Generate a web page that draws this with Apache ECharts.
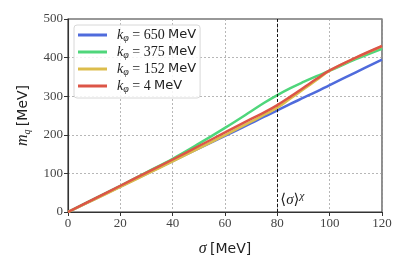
<!DOCTYPE html>
<html>
<head>
<meta charset="utf-8">
<script src="https://cdn.jsdelivr.net/npm/echarts@6/dist/echarts.min.js"></script>
<style>
html,body{margin:0;padding:0;background:#fff;}
#c{width:407px;height:271px;}
</style>
</head>
<body>
<div id="c"></div>
<script>
// sigma [MeV]
var sigma = [0, 10, 20, 30, 40, 50, 60, 70, 75, 80, 85, 90, 95, 100, 110, 120];
// m_q [MeV] for each k_phi
var mq650 = [0, 33, 66, 99, 132, 165, 197, 230, 247, 263, 280, 296, 312, 329, 362, 395];
var mq375 = [0, 34, 68, 103, 138, 177, 218, 261, 283, 303, 321, 337, 352, 366, 396, 423];
var mq152 = [0, 32, 65, 98, 131, 165, 199, 234, 252, 270, 294, 318, 342, 366, 399, 429];
var mq4   = [0, 34, 68, 102, 136, 171, 206, 241, 258, 277, 299, 322, 345, 367, 400, 430];
var seriesNames = ['650', '375', '152', '4'];
var xTicks = [0, 20, 40, 60, 80, 100, 120];
var yTicks = [0, 100, 200, 300, 400, 500];
var chiralSigma = 80;

function pairs(ys){ return sigma.map(function(x,i){ return [x, ys[i]]; }); }

var colors = ['#4f6bdc', '#4fd67b', '#dcbd4c', '#dc5547'];
var serif = "'Liberation Serif', 'DejaVu Serif', serif";
var sans = "'DejaVu Sans', sans-serif";

var chart = echarts.init(document.getElementById('c'), null, {renderer:'canvas'});
var datasets = [mq650, mq375, mq152, mq4];
var series = datasets.map(function(d, i){
  var s = {
    name: 'k = ' + seriesNames[i] + ' MeV',
    type: 'line',
    data: pairs(d),
    showSymbol: false,
    symbol: 'none',
    smooth: 0.4,
    lineStyle: {color: colors[i], width: 2.5},
    itemStyle: {color: colors[i]},
    z: 3 + i
  };
  if (i === 0) {
    s.markLine = {
      silent: true,
      symbol: ['none','none'],
      label: {show: false},
      lineStyle: {color: '#000', type: [3,2], width: 0.9},
      data: [{xAxis: chiralSigma}]
    };
    s.markPoint = {
      silent: true,
      symbol: 'circle',
      symbolSize: 0,
      data: [{coord: [chiralSigma, 0]}],
      label: {
        show: true,
        position: 'right',
        distance: 3,
        offset: [0, -12],
        formatter: '{a|\u27E8}{b|\u03C3}{a|\u27E9}{c|\u03C7}',
        rich: {
          a: {fontFamily: serif, fontSize: 15, color: '#222', lineHeight: 18},
          b: {fontFamily: serif, fontStyle: 'italic', fontSize: 15, color: '#222', lineHeight: 18},
          c: {fontFamily: serif, fontStyle: 'italic', fontSize: 11, color: '#222', verticalAlign: 'top', lineHeight: 18}
        }
      }
    };
  }
  return s;
});

chart.setOption({
  animation: false,
  backgroundColor: '#fff',
  grid: {left: 68, top: 19, width: 314, height: 193, show: true, borderColor: '#333', borderWidth: 1.1, containLabel: false},
  legend: {
    orient: 'vertical',
    left: 74, top: 25,
    padding: [3, 4, 4, 4],
    itemGap: 2,
    itemWidth: 29,
    itemHeight: 3,
    icon: 'rect',
    borderColor: '#d8d8d8',
    borderWidth: 1,
    borderRadius: 3,
    backgroundColor: 'rgba(255,255,255,0.85)',
    data: series.map(function(s){ return s.name; }),
    formatter: function(name){
      var v = name.replace('k = ', '').replace(' MeV','');
      return '{k|k}{s|\u03C6}{t| = ' + v + '} {u|MeV}';
    },
    textStyle: {
      color: '#222',
      rich: {
        k: {fontFamily: serif, fontStyle: 'italic', fontSize: 14, lineHeight: 16, padding: [0,0,0,5]},
        s: {fontFamily: serif, fontStyle: 'italic', fontSize: 10, verticalAlign: 'bottom', lineHeight: 16, padding:[4,0,0,0]},
        t: {fontFamily: serif, fontSize: 14, lineHeight: 16},
        u: {fontFamily: sans, fontSize: 13, lineHeight: 16}
      }
    }
  },
  xAxis: {
    type: 'value', min: 0, max: 120, interval: 20,
    name: '{i|\u03C3} {u|[MeV]}',
    nameLocation: 'middle', nameGap: 29,
    nameTextStyle: {
      rich: {
        i: {fontFamily: serif, fontStyle: 'italic', fontSize: 16, color: '#222'},
        u: {fontFamily: sans, fontSize: 14, color: '#222'}
      }
    },
    axisLine: {show: true, lineStyle: {color: '#333', width: 1.1}},
    axisTick: {show: true, inside: false, length: 4, lineStyle: {color: '#333', width: 1}},
    axisLabel: {fontFamily: serif, fontSize: 13, color: '#444', margin: 5,
      formatter: function(v){ return xTicks.indexOf(v) >= 0 ? String(v) : ''; }},
    splitLine: {show: true, lineStyle: {color: '#999', type: [2,2], width: 0.7}}
  },
  yAxis: {
    type: 'value', min: 0, max: 500, interval: 100,
    name: '{i|m}{s|q} {u|[MeV]}',
    nameLocation: 'middle', nameGap: 36, nameRotate: 90,
    nameTextStyle: {
      rich: {
        i: {fontFamily: serif, fontStyle: 'italic', fontSize: 16, color: '#222', lineHeight: 18},
        s: {fontFamily: serif, fontStyle: 'italic', fontSize: 10, color: '#222', verticalAlign: 'bottom', lineHeight: 18, padding:[5,0,0,0]},
        u: {fontFamily: sans, fontSize: 14, color: '#222', lineHeight: 18}
      }
    },
    axisLine: {show: true, lineStyle: {color: '#333', width: 1.1}},
    axisTick: {show: true, inside: false, length: 4, lineStyle: {color: '#333', width: 1}},
    axisLabel: {fontFamily: serif, fontSize: 13, color: '#444', margin: 5,
      formatter: function(v){ return yTicks.indexOf(v) >= 0 ? String(v) : ''; }},
    splitLine: {show: true, lineStyle: {color: '#999', type: [2,2], width: 0.7}}
  },
  series: series
});
</script>
</body>
</html>
